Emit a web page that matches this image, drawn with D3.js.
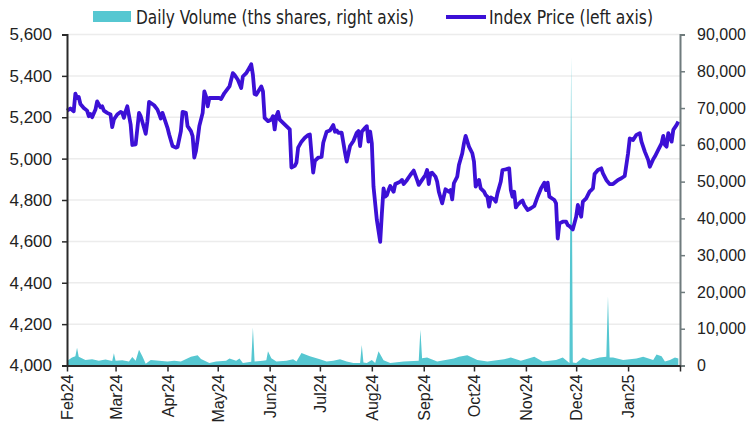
<!DOCTYPE html>
<html>
<head>
<meta charset="utf-8">
<script src="https://cdn.jsdelivr.net/npm/d3@7"></script>
<style>
  body { margin: 0; background: #fff; }
  svg { display: block; }
</style>
</head>
<body>
<svg id="chart" width="750" height="424"></svg>
<script>
// index price, left axis
const indexPrice = [
  ["2024-02-01", 5232], ["2024-02-03", 5242], ["2024-02-05", 5229], ["2024-02-06", 5314], ["2024-02-07", 5293],
  ["2024-02-08", 5298], ["2024-02-09", 5264], ["2024-02-11", 5245], ["2024-02-13", 5232], ["2024-02-14", 5205],
  ["2024-02-15", 5216], ["2024-02-16", 5200], ["2024-02-18", 5237], ["2024-02-19", 5277], ["2024-02-21", 5248],
  ["2024-02-22", 5253], ["2024-02-23", 5232], ["2024-02-25", 5221], ["2024-02-27", 5213], ["2024-02-28", 5152],
  ["2024-02-29", 5189], ["2024-03-02", 5213], ["2024-03-04", 5226], ["2024-03-05", 5221], ["2024-03-06", 5197],
  ["2024-03-07", 5229], ["2024-03-08", 5253], ["2024-03-10", 5165], ["2024-03-11", 5066], ["2024-03-13", 5069],
  ["2024-03-15", 5221], ["2024-03-16", 5205], ["2024-03-18", 5149], ["2024-03-19", 5120], ["2024-03-20", 5181],
  ["2024-03-21", 5274], ["2024-03-24", 5258], ["2024-03-26", 5237], ["2024-03-27", 5216], ["2024-03-28", 5194],
  ["2024-03-29", 5221], ["2024-03-30", 5197], ["2024-04-01", 5149], ["2024-04-02", 5117], ["2024-04-04", 5061],
  ["2024-04-06", 5053], ["2024-04-07", 5056], ["2024-04-09", 5133], ["2024-04-10", 5226], ["2024-04-12", 5221],
  ["2024-04-13", 5157], ["2024-04-15", 5133], ["2024-04-16", 5109], ["2024-04-17", 5005], ["2024-04-18", 5037],
  ["2024-04-19", 5093], ["2024-04-20", 5157], ["2024-04-22", 5221], ["2024-04-23", 5325], ["2024-04-24", 5301],
  ["2024-04-25", 5253], ["2024-04-26", 5293], ["2024-04-28", 5293], ["2024-05-02", 5293], ["2024-05-03", 5288],
  ["2024-05-05", 5317], ["2024-05-08", 5349], ["2024-05-10", 5413], ["2024-05-11", 5405], ["2024-05-13", 5381],
  ["2024-05-15", 5341], ["2024-05-16", 5397], ["2024-05-18", 5413], ["2024-05-20", 5440], ["2024-05-21", 5456],
  ["2024-05-22", 5405], ["2024-05-23", 5312], ["2024-05-24", 5309], ["2024-05-25", 5322], ["2024-05-27", 5349],
  ["2024-05-28", 5325], ["2024-05-29", 5197], ["2024-05-31", 5181], ["2024-06-02", 5189], ["2024-06-03", 5205],
  ["2024-06-04", 5141], ["2024-06-05", 5205], ["2024-06-06", 5226], ["2024-06-07", 5189], ["2024-06-09", 5173],
  ["2024-06-11", 5157], ["2024-06-13", 5141], ["2024-06-14", 4957], ["2024-06-16", 4965], ["2024-06-17", 4981],
  ["2024-06-18", 5053], ["2024-06-20", 5082], ["2024-06-22", 5101], ["2024-06-24", 5114], ["2024-06-25", 5117],
  ["2024-06-26", 5021], ["2024-06-27", 4933], ["2024-06-28", 4989], ["2024-06-30", 5005], ["2024-07-02", 5008],
  ["2024-07-03", 5077], ["2024-07-05", 5130], ["2024-07-07", 5136], ["2024-07-09", 5162], ["2024-07-10", 5130],
  ["2024-07-11", 5136], ["2024-07-12", 5125], ["2024-07-14", 5125], ["2024-07-16", 5029], ["2024-07-17", 4986],
  ["2024-07-19", 5061], ["2024-07-21", 5085], ["2024-07-23", 5125], ["2024-07-24", 5133], ["2024-07-25", 5061],
  ["2024-07-26", 5130], ["2024-07-28", 5149], ["2024-07-29", 5157], ["2024-07-30", 5082], ["2024-07-31", 5131],
  ["2024-08-01", 5074], ["2024-08-02", 4865], ["2024-08-04", 4703], ["2024-08-06", 4598], ["2024-08-07", 4735],
  ["2024-08-08", 4856], ["2024-08-09", 4816], ["2024-08-10", 4824], ["2024-08-11", 4848], ["2024-08-12", 4868],
  ["2024-08-14", 4840], ["2024-08-15", 4877], ["2024-08-16", 4881], ["2024-08-18", 4889], ["2024-08-19", 4897],
  ["2024-08-20", 4877], ["2024-08-22", 4897], ["2024-08-24", 4921], ["2024-08-26", 4942], ["2024-08-28", 4897],
  ["2024-08-29", 4873], ["2024-08-31", 4897], ["2024-09-02", 4921], ["2024-09-03", 4945], ["2024-09-04", 4877],
  ["2024-09-05", 4929], ["2024-09-06", 4932], ["2024-09-08", 4913], ["2024-09-09", 4889], ["2024-09-10", 4840],
  ["2024-09-12", 4784], ["2024-09-14", 4852], ["2024-09-16", 4840], ["2024-09-17", 4848], ["2024-09-18", 4803],
  ["2024-09-19", 4881], ["2024-09-21", 4913], ["2024-09-22", 4969], ["2024-09-24", 5026], ["2024-09-25", 5074],
  ["2024-09-26", 5110], ["2024-09-28", 5058], ["2024-09-30", 5026], ["2024-10-01", 4985], ["2024-10-02", 4865],
  ["2024-10-04", 4897], ["2024-10-05", 4856], ["2024-10-07", 4840], ["2024-10-08", 4824], ["2024-10-09", 4816],
  ["2024-10-10", 4768], ["2024-10-11", 4813], ["2024-10-13", 4803], ["2024-10-14", 4792], ["2024-10-15", 4832],
  ["2024-10-17", 4889], ["2024-10-18", 4945], ["2024-10-20", 4948], ["2024-10-22", 4953], ["2024-10-23", 4848],
  ["2024-10-24", 4816], ["2024-10-25", 4840], ["2024-10-26", 4764], ["2024-10-27", 4776], ["2024-10-29", 4792],
  ["2024-10-30", 4797], ["2024-10-31", 4776], ["2024-11-02", 4752], ["2024-11-04", 4760], ["2024-11-06", 4771],
  ["2024-11-08", 4816], ["2024-11-10", 4856], ["2024-11-12", 4884], ["2024-11-13", 4848], ["2024-11-14", 4884],
  ["2024-11-15", 4816], ["2024-11-18", 4800], ["2024-11-19", 4784], ["2024-11-20", 4614], ["2024-11-21", 4687],
  ["2024-11-23", 4695], ["2024-11-25", 4695], ["2024-11-26", 4679], ["2024-11-27", 4674], ["2024-11-29", 4658],
  ["2024-12-01", 4719], ["2024-12-02", 4776], ["2024-12-04", 4719], ["2024-12-05", 4792], ["2024-12-07", 4808],
  ["2024-12-09", 4840], ["2024-12-10", 4848], ["2024-12-11", 4856], ["2024-12-12", 4926], ["2024-12-14", 4945],
  ["2024-12-16", 4953], ["2024-12-17", 4929], ["2024-12-19", 4897], ["2024-12-21", 4877], ["2024-12-23", 4877],
  ["2024-12-26", 4897], ["2024-12-28", 4905], ["2024-12-30", 4916], ["2025-01-01", 5026], ["2025-01-02", 5098],
  ["2025-01-04", 5090], ["2025-01-06", 5115], ["2025-01-08", 5123], ["2025-01-09", 5082], ["2025-01-11", 5034],
  ["2025-01-13", 4994], ["2025-01-14", 4961], ["2025-01-16", 4997], ["2025-01-17", 5010], ["2025-01-19", 5042],
  ["2025-01-21", 5074], ["2025-01-22", 5110], ["2025-01-23", 5066], ["2025-01-24", 5058], ["2025-01-25", 5123],
  ["2025-01-26", 5106], ["2025-01-27", 5082], ["2025-01-28", 5139], ["2025-01-30", 5163], ["2025-01-31", 5179]
];

// daily volume in thousand shares, right axis
const dailyVolume = [
  ["2024-02-01", 1200], ["2024-02-04", 2200], ["2024-02-06", 2500], ["2024-02-07", 4800], ["2024-02-08", 2400],
  ["2024-02-12", 1500], ["2024-02-16", 1700], ["2024-02-20", 1300], ["2024-02-24", 1600], ["2024-02-28", 1200],
  ["2024-02-29", 3300], ["2024-03-01", 1300], ["2024-03-05", 1400], ["2024-03-09", 1100], ["2024-03-11", 2300],
  ["2024-03-13", 1300], ["2024-03-15", 4300], ["2024-03-17", 2500], ["2024-03-19", 500], ["2024-03-22", 1500],
  ["2024-03-27", 1300], ["2024-04-01", 1100], ["2024-04-05", 1300], ["2024-04-09", 1100], ["2024-04-15", 2400],
  ["2024-04-19", 2800], ["2024-04-21", 1800], ["2024-04-26", 700], ["2024-04-30", 1100], ["2024-05-06", 1300],
  ["2024-05-08", 1900], ["2024-05-12", 1300], ["2024-05-14", 1900], ["2024-05-16", 700], ["2024-05-21", 1000],
  ["2024-05-22", 10300], ["2024-05-23", 1100], ["2024-05-28", 1300], ["2024-05-30", 1400], ["2024-05-31", 3900],
  ["2024-06-02", 2000], ["2024-06-05", 1100], ["2024-06-11", 1300], ["2024-06-15", 1700], ["2024-06-17", 1100],
  ["2024-06-20", 3400], ["2024-06-25", 2500], ["2024-07-01", 1700], ["2024-07-05", 1100], ["2024-07-09", 1300],
  ["2024-07-13", 1700], ["2024-07-17", 1100], ["2024-07-21", 700], ["2024-07-25", 700], ["2024-07-26", 5600],
  ["2024-07-27", 800], ["2024-07-29", 700], ["2024-08-01", 1500], ["2024-08-03", 700], ["2024-08-05", 3900],
  ["2024-08-08", 1400], ["2024-08-12", 700], ["2024-08-20", 1100], ["2024-08-29", 1300], ["2024-08-30", 9750],
  ["2024-08-31", 2000], ["2024-09-03", 2200], ["2024-09-09", 1100], ["2024-09-19", 1900], ["2024-09-22", 2400],
  ["2024-09-27", 2800], ["2024-10-03", 1500], ["2024-10-09", 1100], ["2024-10-19", 1700], ["2024-10-23", 2200],
  ["2024-10-29", 1300], ["2024-11-06", 2400], ["2024-11-11", 1100], ["2024-11-19", 1500], ["2024-11-23", 2200],
  ["2024-11-27", 700], ["2024-11-28", 84000], ["2024-11-29", 800], ["2024-12-01", 700], ["2024-12-05", 2200],
  ["2024-12-09", 1500], ["2024-12-15", 2200], ["2024-12-19", 2400], ["2024-12-20", 18800], ["2024-12-21", 2200],
  ["2024-12-23", 2200], ["2024-12-29", 1500], ["2025-01-06", 1900], ["2025-01-10", 2400], ["2025-01-16", 1500],
  ["2025-01-18", 3000], ["2025-01-21", 2500], ["2025-01-23", 1100], ["2025-01-26", 1500], ["2025-01-29", 2200],
  ["2025-01-31", 1900]
];

const priceTicks = [4000, 4200, 4400, 4600, 4800, 5000, 5200, 5400, 5600];
const volumeTicks = [0, 10000, 20000, 30000, 40000, 50000, 60000, 70000, 80000, 90000];
const monthStarts = ["2024-02-01", "2024-03-01", "2024-04-01", "2024-05-01", "2024-06-01", "2024-07-01",
  "2024-08-01", "2024-09-01", "2024-10-01", "2024-11-01", "2024-12-01", "2025-01-01", "2025-02-01"];
const monthLabels = ["Feb24", "Mar24", "Apr24", "May24", "Jun24", "Jul24", "Aug24", "Sep24", "Oct24",
  "Nov24", "Dec24", "Jan25", ""];
const legendLabels = ["Daily Volume (ths shares, right axis)", "Index Price (left axis)"];

const LINE_COLOR = '#3c10d6';
const VOL_COLOR = '#56c7d1';
const FONT = '"Liberation Sans", Arial, sans-serif';

const parse = d3.timeParse('%Y-%m-%d');
const svg = d3.select('#chart');
const plot = { left: 67, right: 680, top: 34.5, bottom: 365.5 };

const x = d3.scaleTime()
  .domain([parse('2024-02-01'), parse('2025-02-01')])
  .range([plot.left, plot.right]);
const yPrice = d3.scaleLinear().domain([4000, 5600]).range([plot.bottom, plot.top]);
const yVol = d3.scaleLinear().domain([0, 90000]).range([plot.bottom, plot.top]);

// gridlines
svg.append('g')
  .selectAll('line')
  .data(priceTicks.slice(1))
  .join('line')
  .attr('x1', plot.left).attr('x2', plot.right)
  .attr('y1', d => yPrice(d)).attr('y2', d => yPrice(d))
  .attr('stroke', '#ececec').attr('stroke-width', 1.5);

// volume area
const area = d3.area()
  .x(d => x(parse(d[0])))
  .y0(yVol(0))
  .y1(d => yVol(d[1]));
svg.append('path')
  .datum(dailyVolume)
  .attr('d', area)
  .attr('fill', VOL_COLOR);

// price line
const line = d3.line()
  .x(d => x(parse(d[0])))
  .y(d => yPrice(d[1]));
svg.append('path')
  .datum(indexPrice)
  .attr('d', line)
  .attr('fill', 'none')
  .attr('stroke', LINE_COLOR)
  .attr('stroke-width', 3.8)
  .attr('stroke-linejoin', 'round');

// left axis
const gLeft = svg.append('g')
  .attr('transform', `translate(${plot.left},0)`)
  .call(d3.axisLeft(yPrice).tickValues(priceTicks).tickFormat(d3.format(',')).tickSize(5).tickPadding(10));
gLeft.select('.domain').attr('stroke', '#2a2a2a').attr('stroke-width', 2);
gLeft.selectAll('.tick line').attr('stroke', '#2a2a2a').attr('stroke-width', 1.5);
gLeft.selectAll('text').attr('font-family', FONT).attr('font-size', 17).attr('fill', '#222');

// right axis
const gRight = svg.append('g')
  .attr('transform', `translate(${plot.right},0)`)
  .call(d3.axisRight(yVol).tickValues(volumeTicks).tickFormat(d3.format(',')).tickSize(5).tickPadding(12));
gRight.select('.domain').attr('stroke', '#6f7b7d').attr('stroke-width', 2);
gRight.selectAll('.tick line').attr('stroke', '#6f7b7d').attr('stroke-width', 1.5);
gRight.selectAll('text').attr('font-family', FONT).attr('font-size', 16).attr('fill', '#222');

// bottom axis
const gBottom = svg.append('g')
  .attr('transform', `translate(0,${plot.bottom})`)
  .call(d3.axisBottom(x)
    .tickValues(monthStarts.map(parse))
    .tickFormat((d, i) => monthLabels[i])
    .tickSize(6)
    .tickSizeOuter(0));
gBottom.select('.domain').attr('stroke', '#2a2a2a').attr('stroke-width', 2);
gBottom.selectAll('.tick line').attr('stroke', '#2a2a2a').attr('stroke-width', 1.5);
gBottom.selectAll('text')
  .attr('font-family', FONT).attr('font-size', 16).attr('fill', '#222')
  .attr('text-anchor', 'end')
  .attr('transform', 'rotate(-90)')
  .attr('x', -9).attr('y', 0).attr('dy', '0.35em');

// legend, condensed face squeezed to the reference widths
const legend = svg.append('g')
  .attr('font-family', '"DejaVu Sans Condensed", "Liberation Sans", sans-serif')
  .attr('font-size', 20).attr('fill', '#222');
legend.append('rect').attr('x', 93).attr('y', 11).attr('width', 38).attr('height', 11).attr('fill', VOL_COLOR);
legend.append('text').attr('x', 136).attr('y', 24)
  .attr('textLength', 278).attr('lengthAdjust', 'spacingAndGlyphs')
  .text(legendLabels[0]);
legend.append('line').attr('x1', 446).attr('x2', 486).attr('y1', 17).attr('y2', 17)
  .attr('stroke', LINE_COLOR).attr('stroke-width', 4);
legend.append('text').attr('x', 489).attr('y', 24)
  .attr('textLength', 164).attr('lengthAdjust', 'spacingAndGlyphs')
  .text(legendLabels[1]);
</script>
</body>
</html>
